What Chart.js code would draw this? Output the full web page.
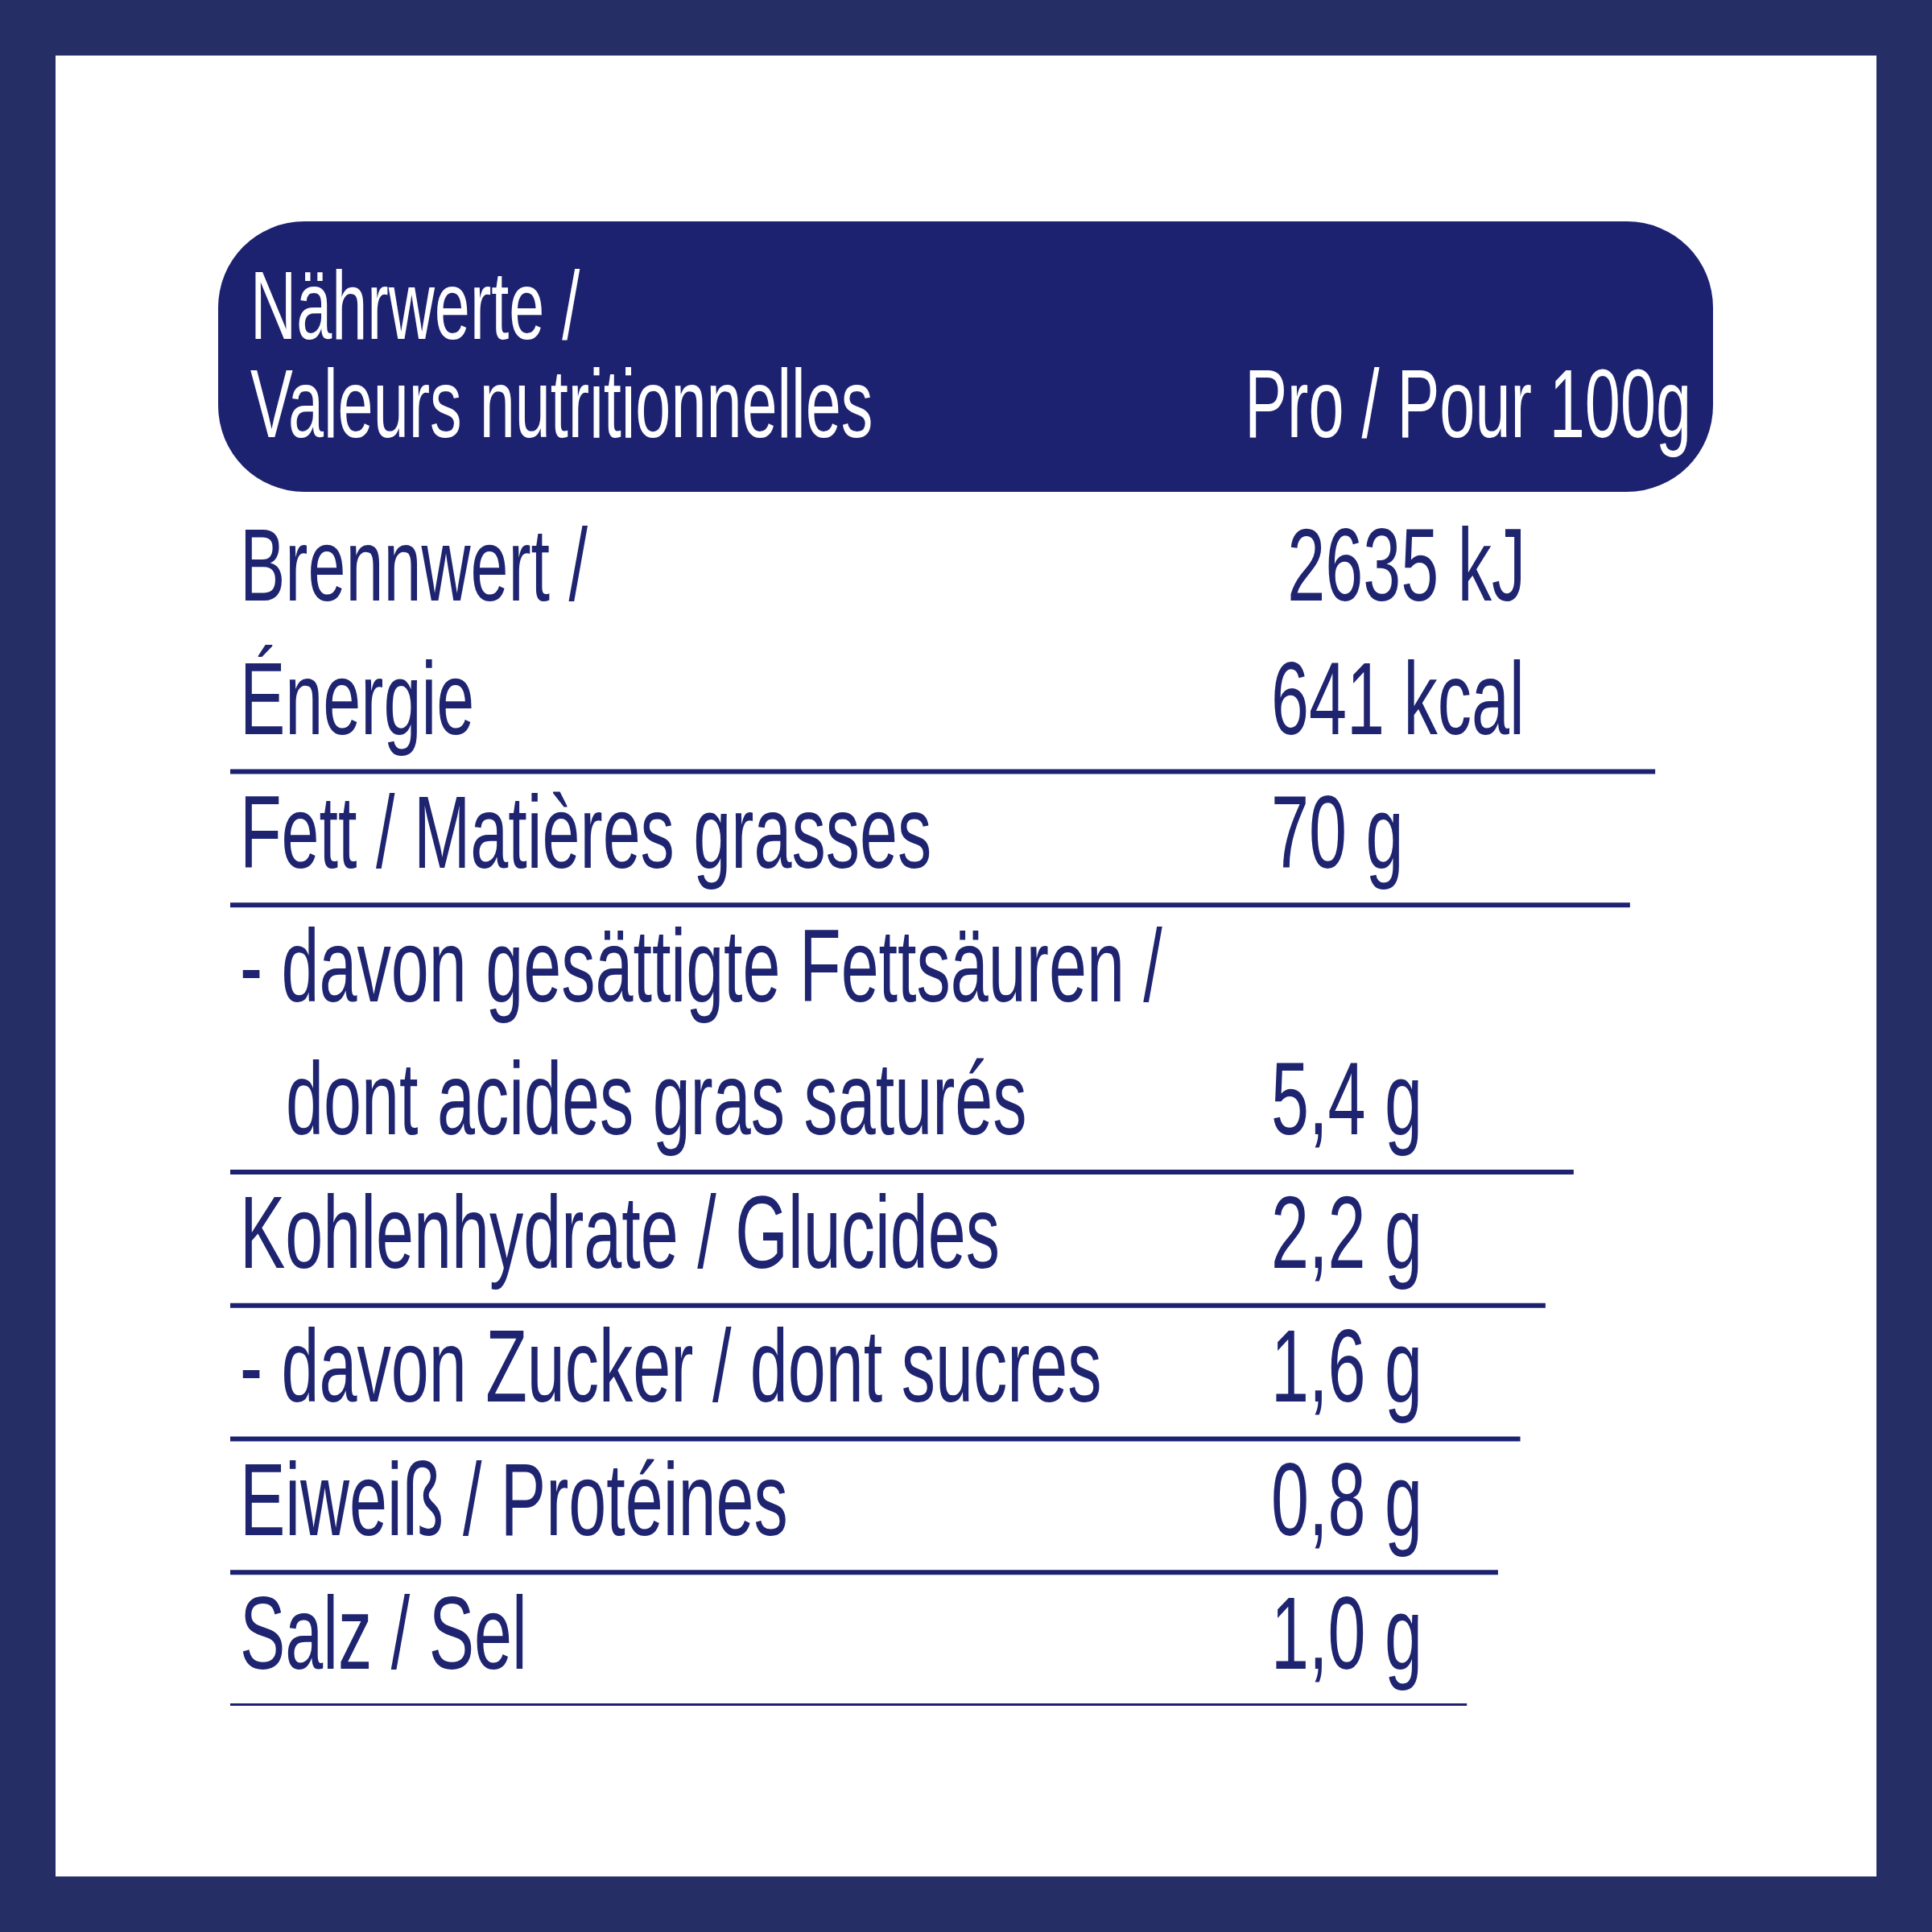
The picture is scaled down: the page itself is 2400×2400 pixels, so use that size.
<!DOCTYPE html>
<html>
<head>
<meta charset="utf-8">
<script src="https://cdn.jsdelivr.net/npm/chart.js@4.4.1/dist/chart.umd.min.js"></script>
<style>
  body { margin: 0; background: #fff; }
  canvas { display: block; }
</style>
</head>
<body>
<canvas id="label" width="2400" height="2400" style="width:2400px;height:2400px"></canvas>
<script>
const headerLines = ["Nährwerte /", "Valeurs nutritionnelles"];
const headerRight = "Pro / Pour 100g";

const rowLabels = [
    "Brennwert /",
    "Énergie",
    "Fett / Matières grasses",
    "- davon gesättigte Fettsäuren /",
    "dont acides gras saturés",
    "Kohlenhydrate / Glucides",
    "- davon Zucker / dont sucres",
    "Eiweiß / Protéines",
    "Salz / Sel"
];
const rowValues = ["2635 kJ", "641 kcal", "70 g", "", "5,4 g", "2,2 g", "1,6 g", "0,8 g", "1,0 g"];
const rowIndent = [false, false, false, false, true, false, false, false, false];

// separator lines: row boundary index and length (0-100 of table width)
const sepRows = [2, 3, 5, 6, 7, 8, 9];
const sepLengths = [96.1, 94.4, 90.6, 88.7, 87.0, 85.5, 83.4];

const navy = "#1c2270";
const textNavy = "#1f2470";
const frame = "#262e66";
const squeeze = 0.66;

function condensed(ctx, text, x, y, align) {
    ctx.save();
    ctx.translate(x, y);
    ctx.scale(squeeze, 1);
    ctx.textAlign = align || "left";
    ctx.fillText(text, 0, 0);
    ctx.restore();
}

const background = {
    id: "background",
    beforeDraw(chart) {
        const ctx = chart.ctx;
        ctx.save();
        ctx.fillStyle = frame;
        ctx.fillRect(0, 0, 2400, 2400);
        ctx.fillStyle = "#fff";
        ctx.fillRect(69, 69, 2262, 2262);
        // header pill
        ctx.fillStyle = navy;
        ctx.beginPath();
        ctx.roundRect(271, 275, 1857, 336, 107);
        ctx.fill();
        ctx.fillStyle = "#fff";
        ctx.font = "120px 'Liberation Sans'";
        ctx.textBaseline = "alphabetic";
        condensed(ctx, headerLines[0], 311, 421);
        condensed(ctx, headerLines[1], 311, 543);
        condensed(ctx, headerRight, 2101, 543, "right");
        ctx.restore();
    }
};

const tableText = {
    id: "tableText",
    afterDatasetsDraw(chart) {
        const ctx = chart.ctx;
        const x = chart.scales.x, y = chart.scales.y;
        ctx.save();
        ctx.fillStyle = textNavy;
        ctx.font = "128px 'Liberation Sans'";
        ctx.textBaseline = "alphabetic";
        rowLabels.forEach((lab, i) => {
            const top = y.getPixelForValue(i), bot = y.getPixelForValue(i + 1);
            const base = top + (bot - top) * 0.72;
            condensed(ctx, lab, x.getPixelForValue(rowIndent[i] ? 3.75 : 0.65), base);
            if (rowValues[i]) {
                const vx = i === 0 ? 71.3 : 70.2;
                condensed(ctx, rowValues[i], x.getPixelForValue(vx), base);
            }
        });
        ctx.restore();
    }
};

const datasets = sepRows.map((r, i) => ({
    data: [{ x: 0, y: r }, { x: sepLengths[i], y: r }],
    showLine: true,
    borderColor: navy,
    borderWidth: 6,
    pointRadius: 0,
    borderCapStyle: "butt"
}));

new Chart(document.getElementById("label").getContext("2d"), {
    type: "scatter",
    data: { datasets },
    plugins: [background, tableText],
    options: {
        responsive: false,
        devicePixelRatio: 1,
        animation: false,
        layout: { padding: { left: 286, right: 272, top: 627, bottom: 281 } },
        plugins: { legend: { display: false }, tooltip: { enabled: false } },
        scales: {
            x: { type: "linear", min: 0, max: 100, display: false },
            y: { type: "linear", min: 0, max: 9, reverse: true, display: false }
        }
    }
});
</script>
</body>
</html>
